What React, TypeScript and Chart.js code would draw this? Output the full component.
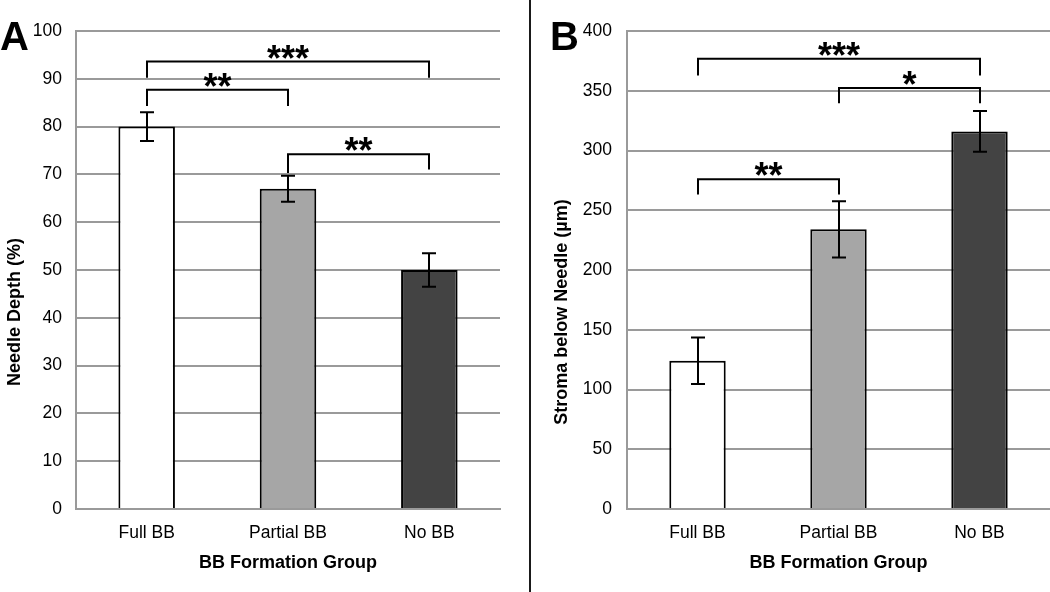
import React, { useEffect, useRef } from "react";
import { Chart, registerables } from "chart.js";

Chart.register(...registerables);

const FONT = "'Liberation Sans', Arial, Helvetica, sans-serif";
const GRID = "#9a9a9a";

const categories = ["Full BB", "Partial BB", "No BB"];
const barColors = ["#ffffff", "#a6a6a6", "#434343"];

// Panel A: Needle depth (%)
const depthValues = [80, 67, 50];
const depthErrors = [3, 2.7, 3.5];
const depthAxis = { min: 0, max: 100, step: 10 };
// [fromIndex, toIndex, bracketTop, leftLegEnd, rightLegEnd, label]
const depthBrackets: [number, number, number, number, number, string][] = [
  [0, 2, 93.6, 90.2, 90.2, "***"],
  [0, 1, 87.7, 84.3, 84.3, "**"],
  [1, 2, 74.2, 70.3, 71, "**"],
];

// Panel B: Stroma below needle (µm)
const stromaValues = [124, 234, 316];
const stromaErrors = [19.5, 23.5, 17];
const stromaAxis = { min: 0, max: 400, step: 50 };
const stromaBrackets: [number, number, number, number, number, string][] = [
  [0, 2, 376.8, 362.8, 362.8, "***"],
  [1, 2, 352.2, 339.5, 339.5, "*"],
  [0, 1, 276, 263.2, 263.2, "**"],
];

const xTitle = "BB Formation Group";
const depthTitle = "Needle Depth (%)";
const stromaTitle = "Stroma below Needle (µm)";

type PanelSpec = {
  values: number[];
  errors: number[];
  brackets: [number, number, number, number, number, string][];
  axis: { min: number; max: number; step: number };
  yTitle: string;
  letter: string;
  letterX: number;
  yTitleX: number;
  yAxisWidth: number;
  rightPad: number;
  tickPad: number;
};

function makeAnnotations(spec: PanelSpec) {
  return {
    id: "annotations",
    afterDatasetsDraw(chart: any) {
      const ctx: CanvasRenderingContext2D = chart.ctx;
      const xs = chart.scales.x;
      const ys = chart.scales.y;
      ctx.save();
      ctx.strokeStyle = "#000";
      ctx.lineWidth = 2;
      ctx.lineCap = "butt";
      spec.values.forEach((v, i) => {
        const px = Math.round(xs.getPixelForValue(i));
        const top = ys.getPixelForValue(v + spec.errors[i]);
        const bot = ys.getPixelForValue(v - spec.errors[i]);
        ctx.beginPath();
        ctx.moveTo(px, top);
        ctx.lineTo(px, bot);
        ctx.moveTo(px - 7, top);
        ctx.lineTo(px + 7, top);
        ctx.moveTo(px - 7, bot);
        ctx.lineTo(px + 7, bot);
        ctx.stroke();
      });
      ctx.font = `bold 36px ${FONT}`;
      ctx.fillStyle = "#000";
      ctx.textAlign = "center";
      ctx.textBaseline = "alphabetic";
      spec.brackets.forEach(([a, b, t, la, lb, label]) => {
        const xa = Math.round(xs.getPixelForValue(a));
        const xb = Math.round(xs.getPixelForValue(b));
        const yt = ys.getPixelForValue(t);
        ctx.beginPath();
        ctx.moveTo(xa, ys.getPixelForValue(la));
        ctx.lineTo(xa, yt);
        ctx.lineTo(xb, yt);
        ctx.lineTo(xb, ys.getPixelForValue(lb));
        ctx.stroke();
        const m = ctx.measureText(label);
        const cy = yt - 10;
        const base = cy + (m.actualBoundingBoxAscent - m.actualBoundingBoxDescent) / 2;
        ctx.fillText(label, (xa + xb) / 2, base);
      });
      ctx.restore();
    },
    afterDraw(chart: any) {
      const ctx: CanvasRenderingContext2D = chart.ctx;
      ctx.save();
      ctx.fillStyle = "#000";
      ctx.font = `bold 40px ${FONT}`;
      ctx.textAlign = "left";
      ctx.textBaseline = "alphabetic";
      ctx.fillText(spec.letter, spec.letterX, 50);
      ctx.font = `bold 18px ${FONT}`;
      ctx.translate(spec.yTitleX, 312);
      ctx.rotate(-Math.PI / 2);
      ctx.textAlign = "center";
      ctx.textBaseline = "middle";
      ctx.fillText(spec.yTitle, 0, 0);
      ctx.restore();
    },
  };
}

function buildConfig(spec: PanelSpec): any {
  return {
    type: "bar",
    data: {
      labels: categories,
      datasets: [
        {
          data: spec.values,
          backgroundColor: barColors,
          borderColor: "#000",
          borderWidth: 2,
          categoryPercentage: 1,
          barPercentage: 0.4,
        },
      ],
    },
    options: {
      animation: false,
      responsive: false,
      maintainAspectRatio: false,
      layout: { padding: { top: 31, right: spec.rightPad, bottom: 0, left: 0 } },
      plugins: { legend: { display: false }, tooltip: { enabled: false } },
      scales: {
        x: {
          grid: { display: false },
          border: { display: true, color: GRID, width: 2 },
          ticks: { color: "#000", font: { family: FONT, size: 17.5 }, padding: 6 },
          title: {
            display: true,
            text: xTitle,
            color: "#000",
            font: { family: FONT, size: 18, weight: "bold" },
            padding: { top: 0, bottom: 18 },
          },
          afterFit: (s: any) => {
            s.height = 83;
          },
        },
        y: {
          min: spec.axis.min,
          max: spec.axis.max,
          ticks: {
            stepSize: spec.axis.step,
            color: "#000",
            font: { family: FONT, size: 17.5 },
            padding: spec.tickPad,
          },
          grid: { color: GRID, lineWidth: 2, drawTicks: false },
          border: { display: true, color: GRID, width: 2 },
          afterFit: (s: any) => {
            s.width = spec.yAxisWidth;
          },
        },
      },
    },
    plugins: [makeAnnotations(spec)],
  };
}

export default function App() {
  const refA = useRef<HTMLCanvasElement>(null);
  const refB = useRef<HTMLCanvasElement>(null);

  useEffect(() => {
    Chart.defaults.font.family = FONT;
    const a = new Chart(
      refA.current as HTMLCanvasElement,
      buildConfig({
        values: depthValues,
        errors: depthErrors,
        brackets: depthBrackets,
        axis: depthAxis,
        yTitle: depthTitle,
        letter: "A",
        letterX: 0,
        yTitleX: 15,
        yAxisWidth: 76,
        rightPad: 29,
        tickPad: 14,
      })
    );
    const b = new Chart(
      refB.current as HTMLCanvasElement,
      buildConfig({
        values: stromaValues,
        errors: stromaErrors,
        brackets: stromaBrackets,
        axis: stromaAxis,
        yTitle: stromaTitle,
        letter: "B",
        letterX: 19,
        yTitleX: 31,
        yAxisWidth: 96,
        rightPad: 0,
        tickPad: 15,
      })
    );
    return () => {
      a.destroy();
      b.destroy();
    };
  }, []);

  return (
    <div
      style={{
        position: "absolute",
        left: 0,
        top: 0,
        width: 1050,
        height: 592,
        background: "#fff",
        overflow: "hidden",
      }}
    >
      <canvas
        ref={refA}
        width={529}
        height={592}
        style={{ position: "absolute", left: 0, top: 0, width: 529, height: 592 }}
      />
      <div
        style={{
          position: "absolute",
          left: 529,
          top: 0,
          width: 2,
          height: 592,
          background: "#1a1a1a",
        }}
      />
      <canvas
        ref={refB}
        width={519}
        height={592}
        style={{ position: "absolute", left: 531, top: 0, width: 519, height: 592 }}
      />
    </div>
  );
}
